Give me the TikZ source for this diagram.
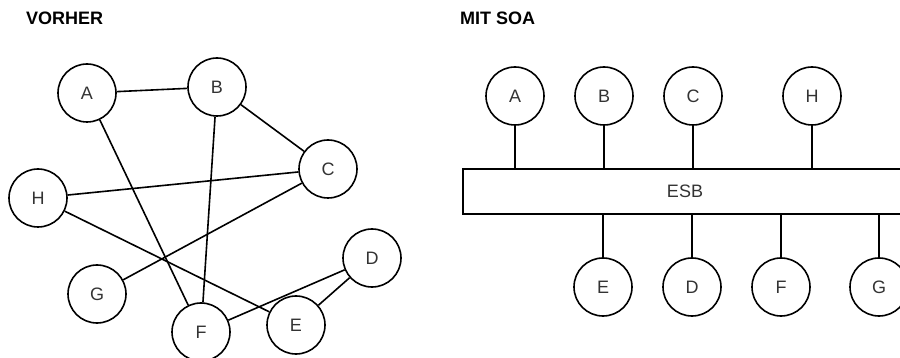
\documentclass[tikz,border=0pt]{standalone}
\usepackage{fontspec}
\setmainfont{Liberation Sans}
\begin{document}
\begin{tikzpicture}[x=1pt,y=-1pt,
  svc/.style={circle,draw,line width=1.6pt,minimum size=58pt,inner sep=0pt,
    font=\fontsize{18}{18}\selectfont,text=black!80},
  bus/.style={rectangle,draw,line width=1.6pt,minimum width=444pt,minimum height=45pt,
    inner sep=0pt,font=\fontsize{18}{18}\selectfont,text=black!80},
  title/.style={anchor=base west,inner sep=0pt,font=\bfseries\fontsize{18}{18}\selectfont},
  link/.style={line width=1.6pt}]
\useasboundingbox (0,0) rectangle (900,358);
\clip (0,0) rectangle (900,358);
% titles
\node[title] (t1) at (26,25) {VORHER};
\node[title] (t2) at (460,25) {MIT SOA};
% left graph
\node[svc] (lA) at (87,93) {A};
\node[svc] (lB) at (217,87) {B};
\node[svc] (lC) at (328,169) {C};
\node[svc] (lH) at (38,198) {H};
\node[svc] (lD) at (372,258) {D};
\node[svc] (lG) at (97,294) {G};
\node[svc] (lF) at (201,332) {F};
\node[svc] (lE) at (296,325) {E};
\draw[link] (lA) -- (lB);
\draw[link] (lA) -- (lF);
\draw[link] (lB) -- (lF);
\draw[link] (lB) -- (lC);
\draw[link] (lC) -- (lH);
\draw[link] (lC) -- (lG);
\draw[link] (lH) -- (lE);
\draw[link] (lD) -- (lF);
\draw[link] (lD) -- (lE);
% right: SOA
\node[bus] (esb) at (685,191.5) {ESB};
\node[svc] (rA) at (515,96) {A};
\node[svc] (rB) at (604,96) {B};
\node[svc] (rC) at (693,96) {C};
\node[svc] (rH) at (812,96) {H};
\node[svc] (rE) at (603,287) {E};
\node[svc] (rD) at (692,287) {D};
\node[svc] (rF) at (781,287) {F};
\node[svc] (rG) at (879,287) {G};
\foreach \n in {rA,rB,rC,rH}{
  \draw[link] (\n.south) -- (\n.south |- esb.north);
}
\foreach \n in {rE,rD,rF,rG}{
  \draw[link] (\n.north) -- (\n.north |- esb.south);
}
\end{tikzpicture}
\end{document}
